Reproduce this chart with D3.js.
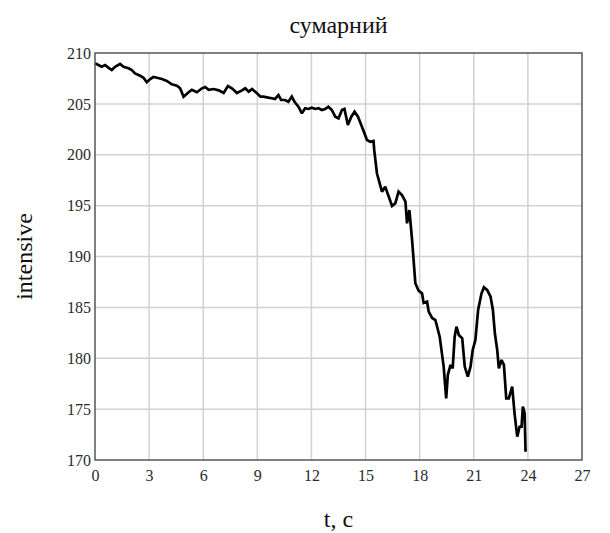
<!DOCTYPE html>
<html>
<head>
<meta charset="utf-8">
<script src="https://cdn.jsdelivr.net/npm/d3@7/dist/d3.min.js"></script>
<style>
  html, body { margin: 0; padding: 0; background: #fff; }
  svg { display: block; }
  .tick text { font-family: 'Liberation Serif', 'Times New Roman', serif; }
</style>
</head>
<body>
<svg id="chart" width="610" height="533"></svg>
<script>
// Time samples, seconds
const tValues = [
  0, 0.19, 0.37, 0.56, 0.74, 0.93, 1.11, 1.39, 1.58, 1.86, 2.04, 2.22, 2.50, 2.69, 2.87,
  3.06, 3.24, 3.43, 3.71, 3.98, 4.26, 4.54, 4.72, 4.91, 5.19, 5.37, 5.65, 5.93, 6.11, 6.30,
  6.58, 6.86, 7.13, 7.37, 7.59, 7.87, 8.15, 8.33, 8.52, 8.71, 8.98, 9.17, 9.33, 9.61, 9.80,
  9.98, 10.17, 10.32, 10.54, 10.72, 10.91, 11.06, 11.28, 11.47, 11.65, 11.83, 12.02, 12.21,
  12.39, 12.58, 12.76, 12.94, 13.13, 13.32, 13.50, 13.69, 13.83, 14.02, 14.21, 14.39, 14.58,
  14.80, 15.08, 15.26, 15.44, 15.48, 15.63, 15.91, 16.09, 16.47, 16.65, 16.83, 17.02, 17.21,
  17.30, 17.43, 17.58, 17.76, 17.94, 18.13, 18.22, 18.41, 18.50, 18.69, 18.87, 19.11, 19.33,
  19.47, 19.56, 19.71, 19.83, 19.94, 20.04, 20.17, 20.36, 20.50, 20.67, 20.82, 20.94, 21.09,
  21.24, 21.43, 21.56, 21.74, 21.93, 22.06, 22.17, 22.30, 22.39, 22.54, 22.67, 22.80, 22.94,
  23.13, 23.26, 23.41, 23.54, 23.65, 23.72, 23.82, 23.87
];

// Summed intensity at each time sample
const intensity = [
  208.99, 208.82, 208.65, 208.82, 208.56, 208.33, 208.65, 208.92, 208.65, 208.50, 208.33, 208.00,
  207.77, 207.57, 207.12, 207.44, 207.64, 207.57, 207.44, 207.25, 206.92, 206.79, 206.53, 205.71,
  206.14, 206.39, 206.14, 206.53, 206.66, 206.39, 206.46, 206.33, 206.07, 206.76, 206.53, 206.07,
  206.33, 206.53, 206.20, 206.46, 206.04, 205.71, 205.71, 205.61, 205.55, 205.48, 205.87, 205.38,
  205.38, 205.21, 205.71, 205.21, 204.72, 204.07, 204.57, 204.50, 204.62, 204.50, 204.57, 204.40,
  204.50, 204.72, 204.40, 203.74, 203.58, 204.40, 204.50, 202.92, 203.74, 204.23, 203.74, 202.76,
  201.45, 201.28, 201.35, 200.47, 198.18, 196.37, 196.86, 194.96, 195.23, 196.37, 196.04, 195.39,
  193.26, 194.57, 191.62, 187.37, 186.64, 186.38, 185.43, 185.56, 184.58, 183.96, 183.76, 182.12,
  179.17, 176.06, 178.35, 179.34, 179.01, 182.12, 183.10, 182.29, 181.96, 179.17, 178.19, 179.17,
  180.81, 181.79, 184.74, 186.38, 186.97, 186.71, 186.05, 184.74, 182.45, 180.81, 179.01, 179.83,
  179.34, 176.06, 176.06, 177.20, 174.59, 172.29, 173.27, 173.27, 175.24, 174.59, 170.82
];

const xTicks = [0, 3, 6, 9, 12, 15, 18, 21, 24, 27];
const yTicks = [170, 175, 180, 185, 190, 195, 200, 205, 210];

const titleText = "сумарний";
const xLabel = "t, c";
const yLabel = "intensive";

const svg = d3.select("#chart");
const margin = { left: 95, right: 28, top: 53, bottom: 73 };
const W = 610, H = 533;
const innerW = W - margin.left - margin.right;
const innerH = H - margin.top - margin.bottom;

const x = d3.scaleLinear().domain([0, 27]).range([margin.left, margin.left + innerW]);
const y = d3.scaleLinear().domain([170, 210]).range([margin.top + innerH, margin.top]);

const serif = "'Liberation Serif', 'Times New Roman', serif";
const labelColor = "#2a2a2a";

// grid lines
const grid = svg.append("g");
grid.selectAll("line.gx").data(xTicks.slice(1, -1)).join("line")
  .attr("x1", d => x(d)).attr("x2", d => x(d))
  .attr("y1", y(170)).attr("y2", y(210))
  .attr("stroke", "#d2d2d2").attr("stroke-width", 1.5);
grid.selectAll("line.gy").data(yTicks.slice(1, -1)).join("line")
  .attr("y1", d => y(d)).attr("y2", d => y(d))
  .attr("x1", x(0)).attr("x2", x(27))
  .attr("stroke", "#d2d2d2").attr("stroke-width", 1.5);

// axes (labels only, frame drawn separately)
const xAxis = d3.axisBottom(x).tickValues(xTicks).tickSize(0).tickPadding(10);
const yAxis = d3.axisLeft(y).tickValues(yTicks).tickSize(0).tickPadding(4);

const gx = svg.append("g").attr("transform", `translate(0,${y(170)})`).call(xAxis);
const gy = svg.append("g").attr("transform", `translate(${x(0)},0)`).call(yAxis);
[gx, gy].forEach(g => {
  g.select(".domain").remove();
  g.attr("font-family", serif).attr("font-size", 16);
  g.selectAll("text")
    .style("font-family", serif)
    .style("font-size", "16px")
    .attr("fill", labelColor);
});

// line
const line = d3.line()
  .x((d, i) => x(tValues[i]))
  .y(d => y(d));

svg.append("path")
  .datum(intensity)
  .attr("d", line)
  .attr("fill", "none")
  .attr("stroke", "#000")
  .attr("stroke-width", 2.7)
  .attr("stroke-linejoin", "miter")
  .attr("stroke-miterlimit", 2);

// frame
svg.append("rect")
  .attr("x", x(0)).attr("y", y(210))
  .attr("width", x(27) - x(0)).attr("height", y(170) - y(210))
  .attr("fill", "none")
  .attr("stroke", "#555")
  .attr("stroke-width", 1.5);

// title
svg.append("text")
  .attr("x", (x(0) + x(27)) / 2).attr("y", 33)
  .attr("text-anchor", "middle")
  .style("font-family", serif)
  .style("font-size", "24px")
  .attr("fill", "#111")
  .text(titleText);

// x label
svg.append("text")
  .attr("x", (x(0) + x(27)) / 2).attr("y", 527)
  .attr("text-anchor", "middle")
  .style("font-family", serif)
  .style("font-size", "24px")
  .attr("fill", "#111")
  .text(xLabel);

// y label
svg.append("text")
  .attr("transform", `translate(32,${(y(170) + y(210)) / 2}) rotate(-90)`)
  .attr("text-anchor", "middle")
  .style("font-family", serif)
  .style("font-size", "24px")
  .attr("fill", "#111")
  .text(yLabel);
</script>
</body>
</html>
